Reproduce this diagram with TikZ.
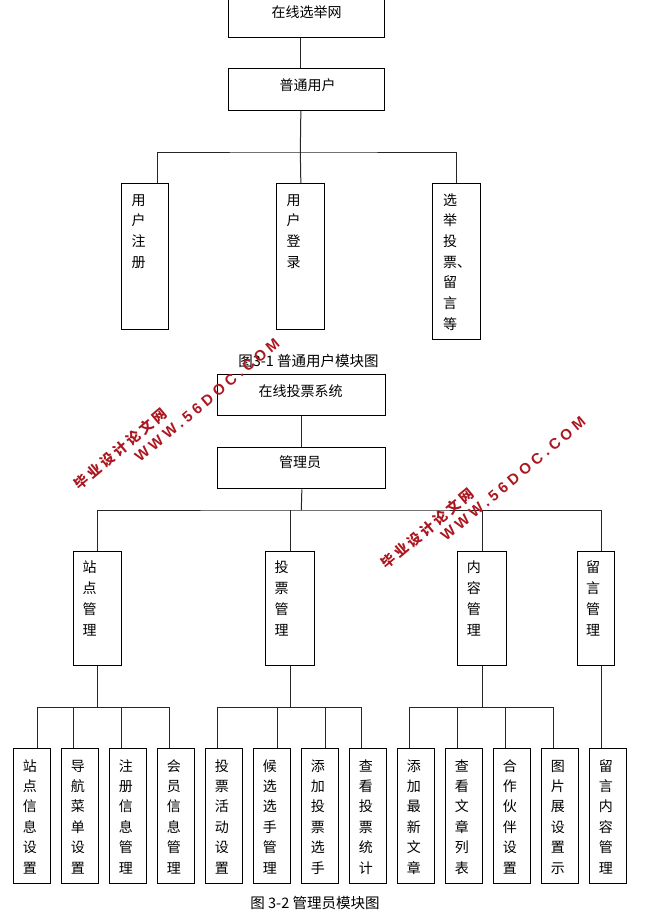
\documentclass[tikz,border=0pt]{standalone}
\usepackage{fontspec}
\setmainfont{Noto Sans CJK SC}
\newfontfamily\wmcjk{Noto Sans CJK SC}[LetterSpace=21]
\newfontfamily\wmlat{Liberation Sans}[LetterSpace=27]
\usetikzlibrary{calc}
\definecolor{wmred}{RGB}{172,22,32}
\def\myendmac{\myend}
\def\mysplit#1{\def\mytmp{#1}\ifx\mytmp\myendmac\else\hbox{#1}\expandafter\mysplit\fi}
\newcommand\vcol[2]{\vtop{\baselineskip=#1\relax\lineskiplimit=-30pt\lineskip=0pt\expandafter\mysplit#2\myend}}
\tikzset{
  box/.style={draw=black, line width=1.1pt, inner sep=0pt, anchor=north west},
  htxt/.style={inner sep=0pt, font=\fontsize{14}{17}\selectfont},
  vt/.style={inner sep=0pt, anchor=base west, font=\fontsize{14}{17}\selectfont},
  con/.style={draw=black!85, line width=1pt},
  captxt/.style={inner sep=0pt, font=\fontsize{14.5}{17}\selectfont},
  wm/.style={inner sep=0pt, anchor=base west, rotate=40, text=wmred},
  wmz/.style={wm, font=\bfseries\fontsize{14}{14}\selectfont},
  wml/.style={wm, font=\bfseries\fontsize{15}{15}\selectfont},
  bbox/.style={box, minimum width=36.4pt, minimum height=135pt},
  mbox/.style={box, minimum height=114pt}
}
\begin{document}
\begin{tikzpicture}[x=1pt,y=-1pt]
\useasboundingbox (0,0) rectangle (653,924);
% ---------- diagram 1 ----------
\node[box, minimum width=156pt, minimum height=42pt] (t1) at (228.3,-4.7) {};
\node[htxt] (t1t) at (306.5,12.3) {在线选举网};
\node[box, minimum width=156pt, minimum height=41.7pt] (t2) at (228.3,68.3) {};
\node[htxt] (t2t) at (307.5,85) {普通用户};
\node[box, minimum width=47.6pt, minimum height=146pt] (u1) at (120.7,183.3) {};
\node[box, minimum width=48pt, minimum height=146pt] (u2) at (276.3,183.3) {};
\node[box, minimum width=48pt, minimum height=156pt] (u3) at (432.3,183.3) {};
\node[vt] (u1t) at (131.3,205) {\vcol{20.7pt}{用户注册}};
\node[vt] (u2t) at (286.3,205) {\vcol{20.7pt}{用户登录}};
\node[vt] (u3t) at (443,205) {\vcol{20.7pt}{选举投{票、}留言等}};
\coordinate (h1) at (300.3,152);
\draw[con] ($(t1.south)+(-6,0)$) -- ($(t2.north)+(-6,0)$);
\draw[con] ($(t2.south)+(-6,0)$) -- (h1);
\coordinate (du1) at ($(u1.north)+(12.2,0)$);
\draw[con] (du1) |- (h1) -| (u3.north);
\draw[con] (h1) -- (u2.north);
\node[captxt] (cap1) at (308.5,360.7) {图3-1 普通用户模块图};
% ---------- diagram 2 ----------
\node[box, minimum width=168pt, minimum height=40.7pt] (a1) at (217.3,374.3) {};
\node[htxt] (a1t) at (300.7,391) {在线投票系统};
\node[box, minimum width=168pt, minimum height=41pt] (a2) at (217.3,447.3) {};
\node[htxt] (a2t) at (300,462.3) {管理员};
\draw[con] (a1.south) -- (a2.north);
\coordinate (h2) at (301.3,510);
\draw[con] (a2.south) -- (h2);
\node[mbox, minimum width=48pt] (m1) at (73.3,551.3) {};
\node[mbox, minimum width=48.4pt] (m2) at (265.3,551.3) {};
\node[mbox, minimum width=48.4pt] (m3) at (457.3,551.3) {};
\node[mbox, minimum width=36.4pt] (m4) at (577.3,551.3) {};
\node[vt] (m1t) at (82.3,572.6) {\vcol{20.9pt}{站点管理}};
\node[vt] (m2t) at (274.5,572.6) {\vcol{20.9pt}{投票管理}};
\node[vt] (m3t) at (466.7,572.6) {\vcol{20.9pt}{内容管理}};
\node[vt] (m4t) at (586,572.6) {\vcol{20.9pt}{留言管理}};
\coordinate (dm4) at ($(m4.north)+(5.8,0)$);
\draw[con] (m1.north) |- (h2) -| (dm4);
\draw[con] (m2.north) -- (m2.north |- h2);
\draw[con] (m3.north) -- (m3.north |- h2);
% bottom row
\foreach \i/\txt in {0/站点信息设置,1/导航菜单设置,2/注册信息管理,3/会员信息管理,4/投票活动设置,5/候选选手管理,6/添加投票选手,7/查看投票统计,8/添加最新文章,9/查看文章列表,10/合作伙伴设置,11/图片展设置示,12/留言内容管理}{
  \node[bbox] (b\i) at ({13.3+48*\i},748.3) {};
  \node[vt] (b\i t) at ({22.6+48*\i},771) {\vcol{20.4pt}{\txt}};
}
\coordinate (lv2) at (0,707);
\foreach \i/\dx in {0/5.5,1/-6.5,2/-6.5,3/-6.2,4/-6.5,5/5.5,6/5.5,7/-6.5,8/-6.5,9/-6.2,10/-6.2,11/-6.2}{
  \coordinate (d\i) at ($(b\i.north)+(\dx,0)$);
  \draw[con] (d\i) -- (d\i |- lv2);
}
\draw[con] (d0 |- lv2) -- (d3 |- lv2);
\draw[con] (d4 |- lv2) -- (d7 |- lv2);
\draw[con] (d8 |- lv2) -- (d11 |- lv2);
\draw[con] (m1.south) -- (m1.south |- lv2);
\draw[con] (m2.south) -- (m2.south |- lv2);
\draw[con] (m3.south) -- (m3.south |- lv2);
\coordinate (dm4s) at ($(m4.south)+(5.8,0)$);
\draw[con] (dm4s) -- (dm4s |- b12.north);
\node[captxt] (cap2) at (315,902.7) {图 3-2 管理员模块图};
% ---------- watermarks ----------
\node[wmz] (w1a) at (79.7,490.3) {\wmcjk 毕业设计论文网};
\node[wml] (w1b) at (139.9,463.1) {\wmlat WWW.56DOC.COM};
\node[wmz] (w2a) at (386,570) {\wmcjk 毕业设计论文网};
\node[wml] (w2b) at (446,542) {\wmlat WWW.56DOC.COM};
\end{tikzpicture}
\end{document}
